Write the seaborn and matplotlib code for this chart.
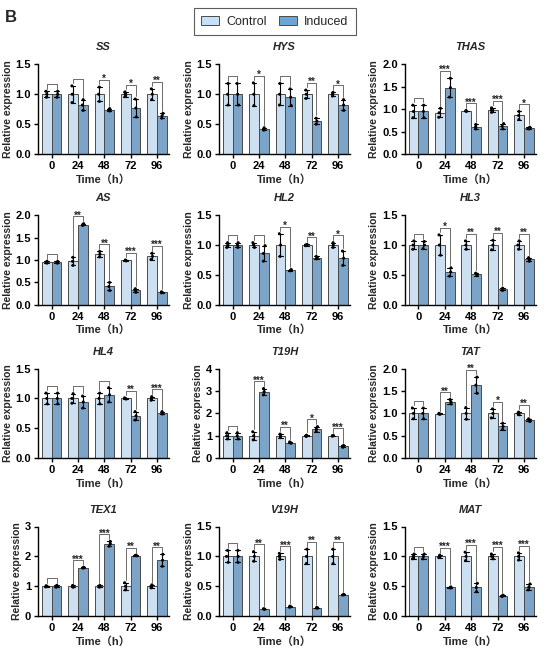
import matplotlib
matplotlib.use("Agg")
import matplotlib.pyplot as plt
from matplotlib.patches import Patch
from matplotlib.ticker import FormatStrFormatter
import seaborn as sns
import pandas as pd
import numpy as np

sns.set_style("ticks")
plt.rcParams['font.family'] = ['Liberation Sans', 'Noto Sans CJK SC', 'DejaVu Sans']
plt.rcParams['font.weight'] = 'bold'
plt.rcParams['axes.labelweight'] = 'bold'
plt.rcParams['axes.titleweight'] = 'bold'
plt.rcParams['axes.linewidth'] = 1.0
plt.rcParams['axes.edgecolor'] = 'black'
plt.rcParams['xtick.color'] = 'black'
plt.rcParams['ytick.color'] = 'black'
plt.rcParams['xtick.major.size'] = 3
plt.rcParams['ytick.major.size'] = 3
plt.rcParams['xtick.major.width'] = 1.0
plt.rcParams['ytick.major.width'] = 1.0
np.random.seed(3)

# ---- data (3 replicates per bar) ----
times = ["0", "24", "48", "72", "96"]
groups = ["Control", "Induced"]
colors = ["#C6E0F7", "#6FA5D5"]

genes = ["SS", "HYS", "THAS", "AS", "HL2", "HL3", "HL4", "T19H", "TAT", "TEX1", "V19H", "MAT"]
y_max = [1.5, 1.5, 2.0, 2.0, 1.5, 1.5, 1.5, 4, 2.0, 3, 1.5, 1.5]
y_step = [0.5, 0.5, 0.5, 0.5, 0.5, 0.5, 0.5, 1, 0.5, 1, 0.5, 0.5]

ss_ctrl = [[0.95, 1.0, 1.05], [0.86, 1.0, 1.14], [0.88, 1.0, 1.12], [0.96, 1.0, 1.04], [0.91, 1.0, 1.09]]
ss_ind = [[0.95, 1.0, 1.05], [0.73, 0.82, 0.91], [0.72, 0.74, 0.76], [0.62, 0.77, 0.92], [0.60, 0.64, 0.68]]
ss_sig = ["", "", "*", "*", "**"]

hys_ctrl = [[0.82, 1.0, 1.18], [0.81, 1.0, 1.19], [0.82, 1.0, 1.18], [0.93, 1.0, 1.07], [0.97, 1.0, 1.03]]
hys_ind = [[0.82, 1.0, 1.18], [0.40, 0.42, 0.44], [0.81, 0.95, 1.09], [0.50, 0.55, 0.60], [0.73, 0.82, 0.91]]
hys_sig = ["", "*", "", "**", "*"]

thas_ctrl = [[0.81, 0.95, 1.09], [0.82, 0.92, 1.02], [0.95, 0.96, 0.97], [0.93, 0.98, 1.03], [0.77, 0.86, 0.95]]
thas_ind = [[0.81, 0.95, 1.09], [1.27, 1.48, 1.69], [0.56, 0.61, 0.66], [0.56, 0.62, 0.68], [0.56, 0.58, 0.60]]
thas_sig = ["", "***", "***", "***", "*"]

as_ctrl = [[0.93, 0.95, 0.97], [0.88, 0.97, 1.06], [1.07, 1.13, 1.19], [0.98, 0.99, 1.00], [1.01, 1.08, 1.15]]
as_ind = [[0.93, 0.95, 0.97], [1.77, 1.79, 1.81], [0.32, 0.41, 0.50], [0.28, 0.32, 0.36], [0.27, 0.28, 0.29]]
as_sig = ["", "**", "**", "***", "***"]

hl2_ctrl = [[0.96, 1.0, 1.04], [0.96, 1.0, 1.04], [0.81, 1.0, 1.19], [0.99, 1.0, 1.01], [0.96, 1.0, 1.04]]
hl2_ind = [[0.96, 1.0, 1.04], [0.73, 0.86, 0.99], [0.57, 0.58, 0.59], [0.77, 0.79, 0.81], [0.66, 0.78, 0.90]]
hl2_sig = ["", "", "*", "**", "*"]

hl3_ctrl = [[0.93, 1.0, 1.07], [0.83, 1.0, 1.17], [0.93, 1.0, 1.07], [0.92, 1.0, 1.08], [0.93, 1.0, 1.07]]
hl3_ind = [[0.94, 1.0, 1.06], [0.48, 0.55, 0.62], [0.49, 0.51, 0.53], [0.24, 0.26, 0.28], [0.73, 0.76, 0.79]]
hl3_sig = ["", "*", "**", "**", "**"]

hl4_ctrl = [[0.91, 1.0, 1.09], [0.92, 1.0, 1.08], [0.91, 1.0, 1.09], [0.99, 1.0, 1.01], [0.97, 1.0, 1.03]]
hl4_ind = [[0.91, 1.0, 1.09], [0.84, 0.94, 1.04], [0.94, 1.06, 1.18], [0.64, 0.71, 0.78], [0.74, 0.76, 0.78]]
hl4_sig = ["", "", "", "**", "***"]

t19h_ctrl = [[0.86, 1.0, 1.14], [0.82, 1.0, 1.18], [0.92, 1.0, 1.08], [0.97, 1.0, 1.03], [0.99, 1.0, 1.01]]
t19h_ind = [[0.86, 1.0, 1.14], [2.83, 2.97, 3.11], [0.67, 0.70, 0.73], [1.19, 1.30, 1.41], [0.49, 0.53, 0.57]]
t19h_sig = ["", "***", "**", "*", "***"]

tat_ctrl = [[0.88, 1.0, 1.12], [0.98, 0.99, 1.00], [0.87, 1.0, 1.13], [0.90, 1.0, 1.10], [0.97, 1.0, 1.03]]
tat_ind = [[0.88, 1.0, 1.12], [1.21, 1.26, 1.31], [1.45, 1.63, 1.81], [0.64, 0.71, 0.78], [0.82, 0.85, 0.88]]
tat_sig = ["", "**", "**", "*", "**"]

tex1_ctrl = [[0.98, 1.0, 1.02], [0.97, 1.0, 1.03], [0.97, 1.0, 1.03], [0.88, 1.0, 1.12], [0.95, 1.0, 1.05]]
tex1_ind = [[0.97, 1.0, 1.03], [1.61, 1.62, 1.63], [2.34, 2.42, 2.50], [2.02, 2.03, 2.04], [1.67, 1.87, 2.07]]
tex1_sig = ["", "***", "***", "**", "**"]

v19h_ctrl = [[0.90, 1.0, 1.10], [0.92, 1.0, 1.08], [0.95, 1.0, 1.05], [0.88, 1.0, 1.12], [0.88, 1.0, 1.12]]
v19h_ind = [[0.90, 1.0, 1.10], [0.115, 0.12, 0.125], [0.15, 0.16, 0.17], [0.135, 0.14, 0.145], [0.355, 0.36, 0.365]]
v19h_sig = ["", "**", "***", "**", "**"]

mat_ctrl = [[0.96, 1.0, 1.04], [0.98, 1.0, 1.02], [0.93, 1.0, 1.07], [0.96, 1.0, 1.04], [0.94, 1.0, 1.06]]
mat_ind = [[0.96, 1.0, 1.04], [0.47, 0.48, 0.49], [0.41, 0.48, 0.55], [0.33, 0.34, 0.35], [0.44, 0.49, 0.54]]
mat_sig = ["", "***", "***", "***", "***"]

ctrl_all = [ss_ctrl, hys_ctrl, thas_ctrl, as_ctrl, hl2_ctrl, hl3_ctrl,
            hl4_ctrl, t19h_ctrl, tat_ctrl, tex1_ctrl, v19h_ctrl, mat_ctrl]
ind_all = [ss_ind, hys_ind, thas_ind, as_ind, hl2_ind, hl3_ind,
           hl4_ind, t19h_ind, tat_ind, tex1_ind, v19h_ind, mat_ind]
sig_all = [ss_sig, hys_sig, thas_sig, as_sig, hl2_sig, hl3_sig,
           hl4_sig, t19h_sig, tat_sig, tex1_sig, v19h_sig, mat_sig]


def long_table(ctrl, ind):
    rows = []
    for g, reps in zip(groups, [ctrl, ind]):
        for t, vals in zip(times, reps):
            for v in vals:
                rows.append((t, g, v))
    return pd.DataFrame(rows, columns=["time", "group", "value"])


def draw_panel(ax, gene, ctrl, ind, sig, ymax, step):
    df = long_table(ctrl, ind)
    sns.barplot(data=df, x="time", y="value", hue="group", order=times, hue_order=groups,
                palette=colors, width=0.74, errorbar="sd", capsize=0.35,
                edgecolor="#4a4a4a", linewidth=0.7,
                err_kws={"color": "black", "linewidth": 0.8}, legend=False, ax=ax)
    sns.stripplot(data=df, x="time", y="value", hue="group", order=times, hue_order=groups,
                  palette=["black", "black"], dodge=True, jitter=0.07, size=2.2,
                  legend=False, ax=ax)

    # significance brackets
    stats = df.groupby(["group", "time"])["value"].agg(["mean", "std"])
    top = stats["mean"] + stats["std"]
    for i, t in enumerate(times):
        top_c = top[("Control", t)]
        top_i = top[("Induced", t)]
        y = max(top_c, top_i) + 0.08 * ymax
        gap = 0.03 * ymax
        xl, xr = i - 0.185, i + 0.185
        ax.plot([xl, xl, xr, xr], [top_c + gap, y, y, top_i + gap],
                color="#555555", lw=0.6, clip_on=False)
        if sig[i]:
            ax.text(i, y - 0.025 * ymax, sig[i], ha="center", va="baseline",
                    fontsize=7, clip_on=False)

    ax.set_ylim(0, ymax)
    ax.set_yticks(np.arange(0, ymax + step / 2, step))
    if step < 1:
        ax.yaxis.set_major_formatter(FormatStrFormatter("%.1f"))
    else:
        ax.yaxis.set_major_formatter(FormatStrFormatter("%d"))
    ax.set_xlim(-0.52, 4.45)
    ax.tick_params(labelsize=8, pad=2)
    ax.set_title(gene, style="italic", fontsize=8, pad=10)
    ax.set_xlabel("Time（h）", fontsize=8, labelpad=2)
    ax.set_ylabel("Relative expression", fontsize=7.5, labelpad=2)
    sns.despine(ax=ax)


fig = plt.figure(figsize=(5.5, 6.5), dpi=100)
lefts = [0.069, 0.398, 0.736]
bottoms = [0.763, 0.531, 0.295, 0.052]
for k, gene in enumerate(genes):
    r, c = divmod(k, 3)
    ax = fig.add_axes([lefts[c], bottoms[r], 0.238, 0.138])
    draw_panel(ax, gene, ctrl_all[k], ind_all[k], sig_all[k], y_max[k], y_step[k])

handles = [Patch(facecolor=colors[0], edgecolor="#4a4a4a", linewidth=0.7),
           Patch(facecolor=colors[1], edgecolor="#4a4a4a", linewidth=0.7)]
leg = fig.legend(handles, groups, loc="upper center", bbox_to_anchor=(0.5, 0.997), ncol=2,
                 frameon=True, fancybox=False, edgecolor="#333333", fontsize=9,
                 handlelength=1.4, handleheight=0.8, handletextpad=0.6,
                 columnspacing=1.0, borderpad=0.6)
leg.get_frame().set_linewidth(0.8)
for txt in leg.get_texts():
    txt.set_fontweight("normal")

fig.text(0.008, 0.985, "B", fontsize=12, fontweight="bold", va="top")

fig.savefig("out.png", dpi=100)
